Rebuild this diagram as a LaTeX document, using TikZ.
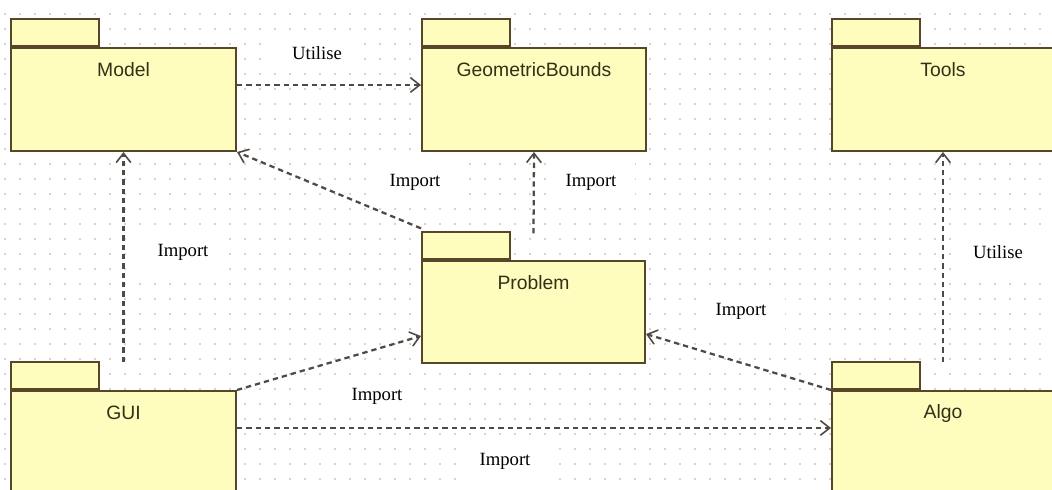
\documentclass[tikz,border=0pt]{standalone}
\usepackage{fontspec}
\setmainfont{Liberation Serif}
\newfontfamily\pkgfont{Liberation Sans}
\usetikzlibrary{arrows.meta,calc}
\definecolor{pkgfill}{RGB}{255,253,190}
\definecolor{pkgline}{RGB}{88,70,40}
\definecolor{pkgtxt}{RGB}{50,48,22}
\definecolor{dep}{RGB}{80,74,66}
\definecolor{gridc}{RGB}{212,212,212}
\newcommand\px{0.75pt}
\tikzset{
  pkgbody/.style={draw=pkgline, fill=pkgfill, line width=1.5pt, inner sep=0pt, anchor=north west},
  pkgtab/.style={draw=pkgline, fill=pkgfill, line width=1.5pt, inner sep=0pt, anchor=south west,
    minimum width=88*\px, minimum height=27*\px},
  pkgtext/.style={font=\pkgfont\fontsize{14.5}{16}\selectfont, text=pkgtxt, inner sep=0pt},
  deparrow/.style={draw=dep, line width=1.7pt, dash pattern=on 4pt off 3pt,
    -{Straight Barb[length=7pt,width=11pt,line width=1.2pt]}},
  deplabel/.style={fill=white, font=\fontsize{14}{16}\selectfont, inner xsep=14pt, inner ysep=9pt}
}
\newcommand\pkgbox[6]{%
  \node[pkgbody, minimum width=#4*\px, minimum height=#5*\px] (#1) at (#2,#3) {};
  \node[pkgtab] (#1tab) at (#1.north west) {};
  \node[pkgtext] (#1txt) at ([yshift=-23*\px]#1.north) {#6};
}
\begin{document}
\begin{tikzpicture}[x=0.75pt,y=-0.75pt]
\useasboundingbox (0,0) rectangle (1052,489);
\fill[white] (0,0) rectangle (1052,489);
% dotted grid
\foreach \r in {14,29,...,489}{
  \draw[gridc, line width=1.2pt, dash pattern=on 1.2pt off 10.05pt] (4,\r) -- (1052,\r);
}
% packages
\pkgbox{model}{10}{47}{225}{103}{Model}
\pkgbox{geo}{421}{47}{224}{103}{GeometricBounds}
\pkgbox{tools}{831}{47}{222}{103}{Tools}
\pkgbox{prob}{421}{260}{223}{102}{Problem}
\pkgbox{gui}{10}{390}{225}{103}{GUI}
\pkgbox{algo}{831}{390}{222}{103}{Algo}
% labels
\node[deplabel] (l1) at (317,53) {Utilise};
\node[deplabel] (l2) at (415,182) {Import};
\node[deplabel] (l3) at (591,182) {Import};
\node[deplabel] (l4) at (183,252) {Import};
\node[deplabel] (l5) at (998,252) {Utilise};
\node[deplabel] (l6) at (741,311) {Import};
\node[deplabel] (l7) at (377,396) {Import};
\node[deplabel] (l8) at (505,461) {Import};
% connectors
\draw[deparrow] ([yshift=10.9pt]model.east) -- ([yshift=10.9pt]geo.west);
\draw[deparrow] ([yshift=21pt]gui.north -| model.south) -- (model.south);
\draw[deparrow] ([yshift=2pt]probtab.north west) -- (model.south east);
\draw[deparrow] ([yshift=20pt]prob.north) -- (geo.south);
\draw[deparrow] (gui.north east) -- ([yshift=-18pt]prob.west);
\draw[deparrow] ([yshift=10.9pt]gui.east) -- ([yshift=10.9pt]algo.west);
\draw[deparrow] (algo.north west) -- ([yshift=-16.5pt]prob.east);
\draw[deparrow] ([yshift=21pt]algo.north) -- (tools.south);
\end{tikzpicture}
\end{document}
